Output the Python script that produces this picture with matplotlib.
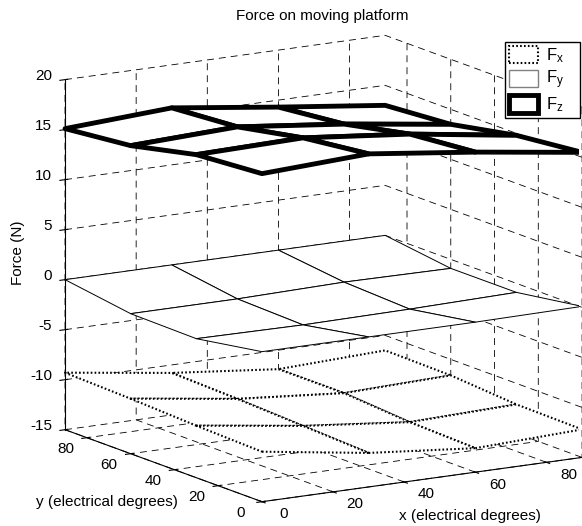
import numpy as np
import matplotlib
matplotlib.use("Agg")
import matplotlib.pyplot as plt
from matplotlib.patches import Rectangle
from mpl_toolkits.mplot3d import proj3d

plt.rcParams["font.family"] = ["Liberation Sans", "DejaVu Sans"]
plt.rcParams["font.size"] = 11
plt.rcParams["mathtext.default"] = "regular"
plt.rcParams["axes.unicode_minus"] = False
plt.rcParams["lines.scale_dashes"] = False
plt.rcParams["grid.color"] = "k"
plt.rcParams["grid.linewidth"] = 0.6
plt.rcParams["grid.linestyle"] = (0, (5, 3.6))
plt.rcParams["axes.linewidth"] = 0.8

# grid of platform positions (electrical degrees)
x_deg = [0, 30, 60, 90]
y_deg = [0, 30, 60, 90]

# force components (N): one row per y value, one column per x value
fx = [[-10.0, -11.6, -12.6, -12.2],
      [-9.8, -11.3, -12.4, -12.1],
      [-9.5, -11.0, -11.9, -11.6],
      [-9.3, -10.8, -11.9, -11.5]]
fy = [[0.0, 0.0, 0.0, 0.1],
      [-1.1, -1.2, -1.1, -0.9],
      [-1.0, -1.0, -0.8, -0.9],
      [0.0, 0.0, 0.0, 0.0]]
fz = [[17.8, 18.3, 17.0, 15.5],
      [17.3, 17.5, 16.4, 14.8],
      [15.8, 16.2, 15.0, 13.5],
      [15.1, 15.7, 14.3, 13.0]]

x_ticks = [0, 20, 40, 60, 80]
y_ticks = [0, 20, 40, 60, 80]
z_ticks = [-15, -10, -5, 0, 5, 10, 15, 20]
labels = ["$F_x$", "$F_y$", "$F_z$"]

dotted = (0, (1.2, 1.6))
X, Y = np.meshgrid(x_deg, y_deg)

fig = plt.figure(figsize=(5.82, 5.26), dpi=100)
ax = fig.add_axes([0.0918, -0.024, 0.9038, 1.0], projection="3d")
ax.set_proj_type("ortho")
ax.view_init(elev=13, azim=-121.6)
ax.set_box_aspect((1, 1, 0.956), zoom=1.184)

# mesh surfaces with white faces so hidden lines disappear
for z, ls, lw in [(fx, dotted, 1.5), (fy, "-", 0.7), (fz, "-", 3.5)]:
    ax.plot_surface(X, Y, np.array(z), color="w", edgecolor="k",
                    linewidth=lw, linestyle=ls, shade=False,
                    rstride=1, cstride=1)

ax.set_xlim(0, 90)
ax.set_ylim(0, 90)
ax.set_zlim(-15, 20)
ax.set_xticks(x_ticks)
ax.set_yticks(y_ticks)
ax.set_zticks(z_ticks)

for axis in (ax.xaxis, ax.yaxis, ax.zaxis):
    axis.set_pane_color((1, 1, 1, 0))
    axis.pane.set_edgecolor((1, 1, 1, 0))
    axis.line.set_color("k")
    # tick labels are placed by hand below
    axis.set_tick_params(labelleft=False)

# project a data point to the 2d view and put a label there
M = ax.get_proj()


def tick_label(x, y, z, s, **kw):
    px, py, _ = proj3d.proj_transform(x, y, z, M)
    ax.text2D(px, py, s, transform=ax.transData, **kw)


# tick labels sit just off the axis lines, matlab style
for t in x_ticks:
    tick_label(t + 6.2, 0, -16.55, str(t), ha="center", va="center")
for t in y_ticks:
    tick_label(-6.05, t, -15.8, str(t), ha="center", va="center")
for t in z_ticks:
    tick_label(-3.66, 90, t + 0.53, str(t), ha="right", va="center")

fig.text(470 / 582, 1 - 516 / 526, "x (electrical degrees)", ha="center", va="center")
fig.text(107 / 582, 1 - 502 / 526, "y (electrical degrees)", ha="center", va="center")
fig.text(18 / 582, 1 - 253 / 526, "Force (N)", ha="center", va="center", rotation=90)
fig.text(322 / 582, 1 - 16 / 526, "Force on moving platform", ha="center", va="center")

handles = [
    Rectangle((0, 0), 1, 1, facecolor="w", edgecolor="k", linestyle=dotted, linewidth=1.5),
    Rectangle((0, 0), 1, 1, facecolor="w", edgecolor="0.5", linewidth=1.0),
    Rectangle((0, 0), 1, 1, facecolor="w", edgecolor="k", linewidth=3.5),
]
fig.legend(handles, labels, loc="upper left", mode="expand",
           bbox_to_anchor=(505 / 582, 1 - 118 / 526, 75 / 582, 76 / 526),
           fancybox=False, edgecolor="k", framealpha=1, fontsize=12,
           handlelength=1.74, handleheight=1.2, labelspacing=0.24,
           borderpad=0.24, handletextpad=0.48, borderaxespad=0)

fig.savefig("out.png", dpi=100)
